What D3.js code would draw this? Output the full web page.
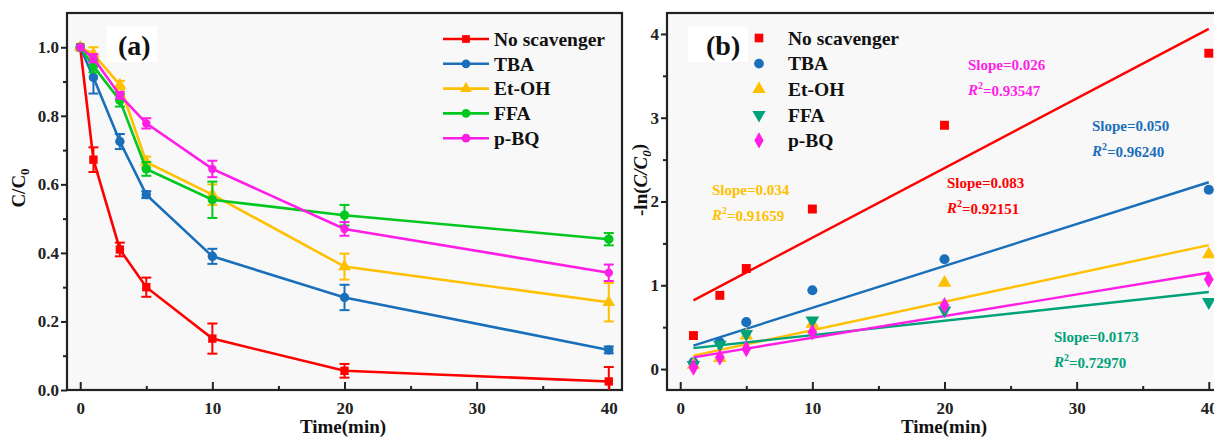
<!DOCTYPE html>
<html>
<head>
<meta charset="utf-8">
<script src="https://cdn.jsdelivr.net/npm/d3@7"></script>
<style>
  body { margin: 0; background: #fff; }
  svg { display: block; }
  text { font-family: "Liberation Serif", "Times New Roman", serif; font-weight: bold; }
</style>
</head>
<body>
<svg id="screen" width="1214" height="439"></svg>
<script>
const screenEl = document.querySelector("#screen");

//data, panel (a)
const names = ["No scavenger", "TBA", "Et-OH", "FFA", "p-BQ"];
const times = [0, 1, 3, 5, 10, 20, 40];
const cNoScav = [1.0, 0.672, 0.41, 0.30, 0.15, 0.056, 0.025];
const cTBA    = [1.0, 0.912, 0.725, 0.57, 0.39, 0.27, 0.117];
const cEtOH   = [1.0, 0.98, 0.89, 0.665, 0.57, 0.36, 0.256];
const cFFA    = [1.0, 0.945, 0.845, 0.645, 0.555, 0.51, 0.44];
const cPBQ    = [1.0, 0.968, 0.86, 0.778, 0.645, 0.47, 0.342];
const eNoScav = [0, 0.036, 0.02, 0.028, 0.044, 0.02, 0.042];
const eTBA    = [0, 0.047, 0.022, 0.01, 0.022, 0.037, 0.01];
const eEtOH   = [0, 0.02, 0.012, 0.016, 0.03, 0.038, 0.056];
const eFFA    = [0, 0.018, 0.018, 0.02, 0.053, 0.03, 0.018];
const ePBQ    = [0, 0.012, 0.01, 0.015, 0.024, 0.02, 0.024];

//data, panel (b)
const timesB = [1, 3, 5, 10, 20, 40];
const lnNoScav = [0.40, 0.88, 1.20, 1.91, 2.91, 3.77];
const lnTBA    = [0.08, 0.32, 0.56, 0.94, 1.31, 2.14];
const lnEtOH   = [0.05, 0.13, 0.40, 0.54, 1.03, 1.37];
const lnFFA    = [0.05, 0.29, 0.42, 0.58, 0.70, 0.80];
const lnPBQ    = [0.02, 0.14, 0.24, 0.44, 0.76, 1.07];
const fitStart = [0.82, 0.28, 0.16, 0.25, 0.14];   // fitted value at t=1
const fitEnd   = [4.06, 2.23, 1.48, 0.92, 1.15];   // fitted value at t=40
const slopes = ["0.083", "0.050", "0.034", "0.0173", "0.026"];
const rSquared = ["0.92151", "0.96240", "0.91659", "0.72970", "0.93547"];

//ticks
const xTicks = [0, 10, 20, 30, 40];
const xMinor = [5, 15, 25, 35];
const yTicksA = [0.0, 0.2, 0.4, 0.6, 0.8, 1.0];
const yMinorA = [0.1, 0.3, 0.5, 0.7, 0.9];
const yTicksB = [0, 1, 2, 3, 4];
const yMinorB = [0.5, 1.5, 2.5, 3.5];

const colorsA = ["#ff0000", "#1a6fba", "#ffc000", "#00c81e", "#ff1ee6"];
const colorsB = ["#ff0000", "#1a6fba", "#ffc000", "#00a27a", "#ff1ee6"];
const seriesA = [cNoScav, cTBA, cEtOH, cFFA, cPBQ];
const errA = [eNoScav, eTBA, eEtOH, eFFA, ePBQ];
const seriesB = [lnNoScav, lnTBA, lnEtOH, lnFFA, lnPBQ];

var svg = d3.select(screenEl);

const plotTop = 13, plotBottom = 390;
var xA = d3.scaleLinear().domain([-1, 41]).range([67, 622]);
var yA = d3.scaleLinear().domain([0, 1.1]).range([plotBottom, plotTop]);
var xB = d3.scaleLinear().domain([-1, 41]).range([667, 1222]);
var yB = d3.scaleLinear().domain([-0.25, 4.25]).range([plotBottom, plotTop]);

var symA = [d3.symbolSquare, d3.symbolCircle, d3.symbolTriangle, d3.symbolCircle, d3.symbolCircle];
var symB = [d3.symbolSquare, d3.symbolCircle, d3.symbolTriangle, d3.symbolTriangle, d3.symbolDiamond];

// clip for panel (a) marks
svg.append("clipPath").attr("id", "clipA").append("rect")
.attr("x", 67).attr("y", plotTop).attr("width", 555).attr("height", plotBottom-plotTop);

function frame(x, y, tickY, minorY, fmt){
    svg.append("rect").attr("x", x.range()[0]).attr("y", plotTop)
    .attr("width", x.range()[1]-x.range()[0]).attr("height", plotBottom-plotTop)
    .attr("fill", "#f8f8f8");

    // x axis, ticks inward
    var gx = svg.append("g").attr("transform", "translate(0," + plotBottom + ")")
    .call(d3.axisBottom(x).tickValues(xTicks).tickSizeInner(-8).tickSizeOuter(0).tickPadding(12));
    gx.append("g").call(d3.axisBottom(x).tickValues(xMinor).tickSizeInner(-4).tickSizeOuter(0).tickFormat(""));

    // y axis, ticks outward
    var gy = svg.append("g").attr("transform", "translate(" + x.range()[0] + ",0)")
    .call(d3.axisLeft(y).tickValues(tickY).tickSizeInner(6).tickSizeOuter(0).tickPadding(2).tickFormat(fmt));
    gy.append("g").call(d3.axisLeft(y).tickValues(minorY).tickSizeInner(4).tickSizeOuter(0).tickFormat(""));

    svg.selectAll(".tick text").attr("font-size", 17).attr("fill", "#222")
    .style("font-family", "Liberation Serif").style("font-weight", "bold");
    svg.selectAll(".domain").attr("stroke", "none");
    svg.selectAll(".tick line").attr("stroke", "#222").attr("stroke-width", 2);

    svg.append("rect").attr("x", x.range()[0]).attr("y", plotTop)
    .attr("width", x.range()[1]-x.range()[0]).attr("height", plotBottom-plotTop)
    .attr("fill", "none").attr("stroke", "#222").attr("stroke-width", 2.2);
}

frame(xA, yA, yTicksA, yMinorA, d3.format(".1f"));
frame(xB, yB, yTicksB, yMinorB, d3.format("d"));

//Panel (a) lines + error bars
var line = d3.line().x((d, i) => xA(times[i])).y(d => yA(d));
seriesA.forEach(function(s, k){
    var g = svg.append("g").attr("clip-path", "url(#clipA)");
    var c = colorsA[k];
    g.append("path").attr("d", line(s)).attr("fill", "none")
    .attr("stroke", c).attr("stroke-width", 2.6);
    s.forEach(function(v, i){
        var e = errA[k][i];
        if (e > 0){
            var px = xA(times[i]);
            g.append("line").attr("x1", px).attr("x2", px).attr("y1", yA(v-e)).attr("y2", yA(v+e))
            .attr("stroke", c).attr("stroke-width", 2);
            [v-e, v+e].forEach(function(w){
                g.append("line").attr("x1", px-5).attr("x2", px+5).attr("y1", yA(w)).attr("y2", yA(w))
                .attr("stroke", c).attr("stroke-width", 2);
            });
        }
        g.append("path").attr("d", d3.symbol().type(symA[k]).size(k == 4 ? 55 : 70)())
        .attr("transform", "translate(" + xA(times[i]) + "," + yA(v) + ")").attr("fill", c);
    });
});

//legend (a)
names.forEach(function(n, k){
    var ly = 39 + k*24.8;
    svg.append("line").attr("x1", 443).attr("x2", 489).attr("y1", ly).attr("y2", ly)
    .attr("stroke", colorsA[k]).attr("stroke-width", 2.6);
    svg.append("path").attr("d", d3.symbol().type(symA[k]).size(60)())
    .attr("transform", "translate(466," + ly + ")").attr("fill", colorsA[k]);
    svg.append("text").attr("x", 494).attr("y", ly).attr("dy", "0.35em")
    .attr("font-size", 19.5).attr("fill", "#111").text(n);
});

//Panel (b) points + fits
seriesB.forEach(function(s, k){
    var c = colorsB[k];
    svg.append("line").attr("x1", xB(1)).attr("x2", xB(40))
    .attr("y1", yB(fitStart[k])).attr("y2", yB(fitEnd[k]))
    .attr("stroke", c).attr("stroke-width", 2.4);
});
seriesB.forEach(function(s, k){
    var c = colorsB[k];
    var rot = k == 3 ? " rotate(180)" : "";
    s.forEach(function(v, i){
        svg.append("path").attr("d", d3.symbol().type(symB[k]).size(80)())
        .attr("transform", "translate(" + xB(timesB[i]) + "," + yB(v) + ")" + rot).attr("fill", c);
    });
});

//legend (b)
names.forEach(function(n, k){
    var ly = 38 + k*25.6;
    var rot = k == 3 ? " rotate(180)" : "";
    svg.append("path").attr("d", d3.symbol().type(symB[k]).size(75)())
    .attr("transform", "translate(759," + ly + ")" + rot).attr("fill", colorsB[k]);
    svg.append("text").attr("x", 788).attr("y", ly).attr("dy", "0.35em")
    .attr("font-size", 19.5).attr("fill", "#111").text(n);
});

//slope annotations
var notePos = [[947, 183], [1092, 126], [712, 190], [1054, 337], [968, 65]];
notePos.forEach(function(p, k){
    svg.append("text").attr("x", p[0]).attr("y", p[1]).attr("dy", "0.35em")
    .attr("font-size", 15).attr("fill", colorsB[k]).text("Slope=" + slopes[k]);
    var t = svg.append("text").attr("x", p[0]).attr("y", p[1]+25).attr("dy", "0.35em")
    .attr("font-size", 15).attr("fill", colorsB[k]);
    t.append("tspan").attr("font-style", "italic").text("R");
    t.append("tspan").attr("font-size", 10).attr("dy", "-0.6em").text("2");
    t.append("tspan").attr("dy", "0.45em").text("=" + rSquared[k]);
});

//panel tags
[["(a)", 107, 118], ["(b)", 688, 706]].forEach(function(p){
    svg.append("rect").attr("x", p[1]).attr("y", 27).attr("width", p[0] == "(a)" ? 50 : 60).attr("height", 35).attr("fill", "#fff");
    svg.append("text").attr("x", p[2]).attr("y", 45).attr("dy", "0.35em")
    .attr("font-size", 28).attr("fill", "#111").text(p[0]);
});

//axis titles
[343, 944].forEach(function(cx){
    svg.append("text").attr("x", cx).attr("y", 433).attr("text-anchor", "middle")
    .attr("font-size", 19).attr("fill", "#111").text("Time(min)");
});
var ya = svg.append("text").attr("transform", "translate(25,188) rotate(-90)")
.attr("text-anchor", "middle").attr("font-size", 19).attr("fill", "#111");
ya.append("tspan").text("C/C");
ya.append("tspan").attr("font-size", 13).attr("dy", "0.3em").text("0");

var yb = svg.append("text").attr("transform", "translate(647,180) rotate(-90)")
.attr("text-anchor", "middle").attr("font-size", 19).attr("fill", "#111");
yb.append("tspan").text("-ln(");
yb.append("tspan").attr("font-style", "italic").text("C/C");
yb.append("tspan").attr("font-style", "italic").attr("font-size", 13).attr("dy", "0.3em").text("0");
yb.append("tspan").attr("dy", "-0.3em").text(")");
</script>
</body>
</html>
